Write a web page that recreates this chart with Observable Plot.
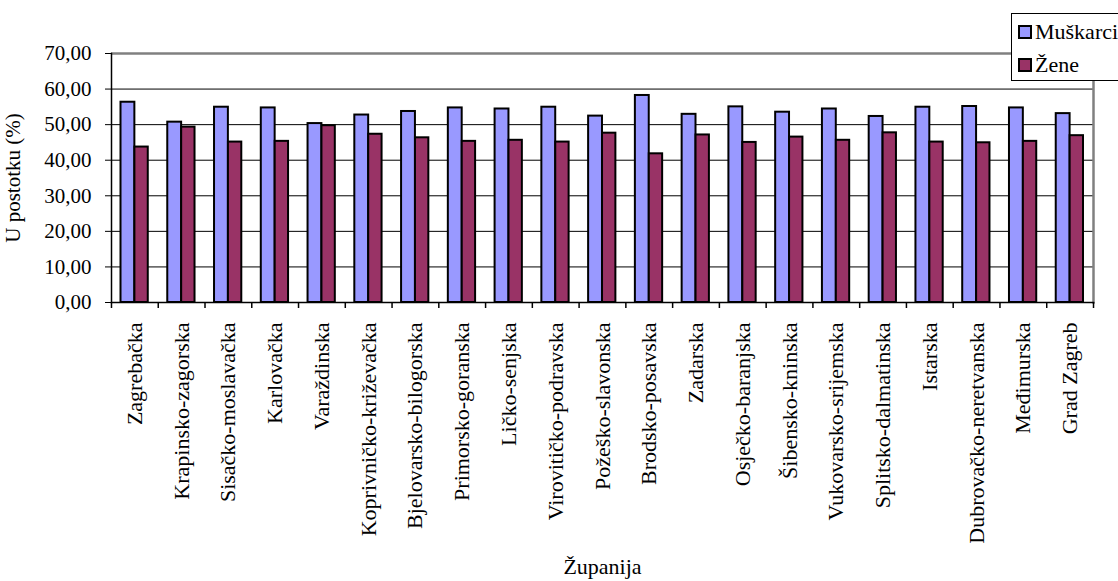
<!DOCTYPE html>
<html>
<head>
<meta charset="utf-8">
<script src="https://cdn.jsdelivr.net/npm/d3@7"></script>
<script src="https://cdn.jsdelivr.net/npm/@observablehq/plot@0.6"></script>
<style>
  body { margin: 0; background: #fff; }
  #wrap { position: relative; width: 1118px; height: 581px; overflow: hidden; background: #fff; }
  #legend { position: absolute; left: 1011px; top: 13px; width: 130px; height: 66px; border: 1px solid #000; background: #fff;
            font-family: "Liberation Serif", serif; font-size: 22px; color: #000; }
  .row { position: absolute; left: 6px; display: flex; align-items: center; white-space: nowrap; }
  .sw { width: 10px; height: 10px; border: 2px solid #000; margin-right: 3px; }
</style>
</head>
<body>
<div id="wrap">
  <div id="chart"></div>
  <div id="legend"></div>
</div>
<script>
const counties = ["Zagrebačka","Krapinsko-zagorska","Sisačko-moslavačka","Karlovačka","Varaždinska","Koprivničko-križevačka","Bjelovarsko-bilogorska","Primorsko-goranska","Ličko-senjska","Virovitičko-podravska","Požeško-slavonska","Brodsko-posavska","Zadarska","Osječko-baranjska","Šibensko-kninska","Vukovarsko-srijemska","Splitsko-dalmatinska","Istarska","Dubrovačko-neretvanska","Međimurska","Grad Zagreb"];
const muskarci = [56.3,50.7,54.9,54.7,50.3,52.7,53.7,54.7,54.4,54.9,52.4,58.2,52.9,55.0,53.5,54.4,52.3,54.9,55.1,54.7,53.1];
const zene = [43.7,49.3,45.1,45.3,49.7,47.3,46.3,45.3,45.6,45.1,47.6,41.8,47.1,45.0,46.5,45.6,47.7,45.1,44.9,45.3,46.9];
const seriesNames = ["Muškarci","Žene"];
const seriesColors = ["#9999ff","#993366"];
const yTicks = [0,10,20,30,40,50,60,70];

const data = counties.map((c,i) => ({county: c, m: muskarci[i], z: zene[i]}));
const fmt = d => d.toFixed(2).replace(".", ",");
const serif = '"Liberation Serif", serif';

const chart = Plot.plot({
  width: 1118, height: 581,
  marginLeft: 111, marginRight: 25, marginTop: 53, marginBottom: 279,
  style: {fontFamily: serif, fontSize: "21px", color: "#000", background: "#fff"},
  x: {domain: counties, padding: 0, round: false, label: null},
  y: {domain: [0, 70], label: null},
  marks: [
    Plot.ruleY(yTicks.filter(t => t > 0 && t < 70), {stroke: "#000", strokeWidth: 1}),
    Plot.ruleY([70], {stroke: "#808080", strokeWidth: 2.5}),
    Plot.frame({anchor: "right", stroke: "#808080", strokeWidth: 2.5}),
    Plot.barY(data, {x: "county", y: "m", fill: seriesColors[0], stroke: "#000", strokeWidth: 2, insetLeft: 9.5, insetRight: 23.4}),
    Plot.barY(data, {x: "county", y: "z", fill: seriesColors[1], stroke: "#000", strokeWidth: 2, insetLeft: 23.4, insetRight: 10}),
    Plot.ruleX(counties, {x: d => d, y1: 0, y2: 0, dx: -23.4, insetBottom: -6, stroke: "#000", strokeWidth: 1.5}),
    Plot.ruleX([counties[counties.length - 1]], {x: d => d, y1: 0, y2: 0, dx: 23.4, insetBottom: -6, stroke: "#000", strokeWidth: 1.5}),
    Plot.frame({anchor: "left", stroke: "#000", strokeWidth: 1.5}),
    Plot.frame({anchor: "bottom", stroke: "#000", strokeWidth: 1.5}),
    Plot.axisY({ticks: yTicks, tickFormat: fmt, tickSize: 6, tickPadding: 14, fontSize: 21,
      label: "U postotku (%)", labelAnchor: "center", labelOffset: 106, labelArrow: "none"}),
    Plot.axisX({tickRotate: -90, tickSize: 0, tickPadding: 20, fontSize: 22,
      label: "Županija", labelAnchor: "center", labelOffset: 271, labelArrow: "none"})
  ]
});
document.getElementById("chart").appendChild(chart);

const legend = document.getElementById("legend");
seriesNames.forEach((n, i) => {
  const row = document.createElement("div");
  row.className = "row";
  row.style.top = (i === 0 ? 5 : 38) + "px";
  row.innerHTML = `<span class="sw" style="background:${seriesColors[i]}"></span><span>${n}</span>`;
  legend.appendChild(row);
});
</script>
</body>
</html>
